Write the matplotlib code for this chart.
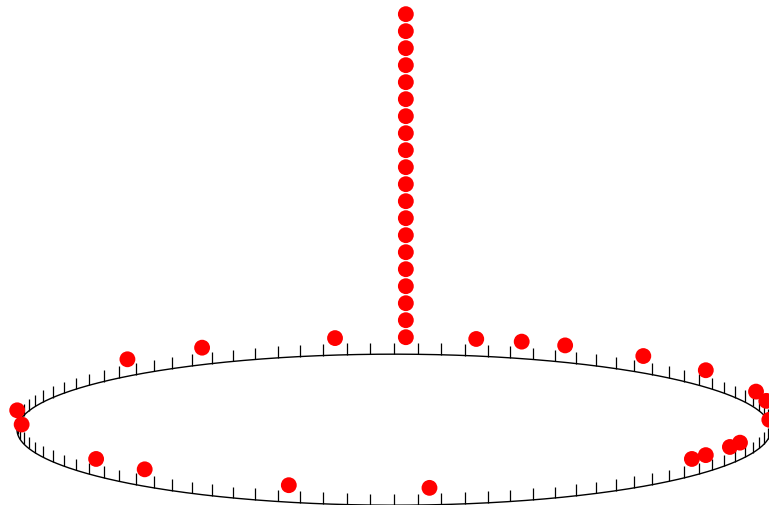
import numpy as np
import matplotlib.pyplot as plt

# bin-centre angles (degrees) of the observations and how many fall in each bin
angles = [135.0, 120.6, 99.0, 88.2, 77.4, 70.2, 63.0, 48.6, 34.2, 16.2, 9.0, 354.6,
          178.2, 189.0, 217.8, 228.6, 253.8, 275.4, 322.2, 325.8, 333.0, 336.6]
counts = [1, 1, 1, 20, 1, 1, 1, 1, 1, 1, 1, 1,
          1, 1, 1, 1, 1, 1, 1, 1, 1, 1]
n_ticks = 100

tilt = 0.2003       # vertical squash of the circle
tick_len = 0.0305
dot_step = 0.0451

fig = plt.figure(figsize=(7.69, 5.06), dpi=100)
ax = fig.add_axes([0, 0, 1, 1])
ax.set_xlim(-1.0451, 0.9947)
ax.set_ylim(-0.1998, 1.1424)
ax.set_aspect("equal")
ax.axis("off")

# the circle itself
th = np.linspace(0, 2 * np.pi, 721)
ax.plot(np.cos(th), tilt * np.sin(th), color="black", lw=1.0, zorder=2, clip_on=False)

# upright ticks around the circle
t = np.radians(np.arange(n_ticks) * 360.0 / n_ticks)
tx = np.cos(t)
ty = tilt * np.sin(t)
ax.vlines(tx, ty, ty + tick_len, color="black", lw=0.9, zorder=2)

# stacked dots for each bin
xs, ys = [], []
for a, c in zip(angles, counts):
    r = np.radians(a)
    for k in range(1, c + 1):
        xs.append(np.cos(r))
        ys.append(tilt * np.sin(r) + k * dot_step)
ax.scatter(xs, ys, s=130, color="red", edgecolors="none", zorder=3, clip_on=False)

fig.savefig("out.png", dpi=100)
